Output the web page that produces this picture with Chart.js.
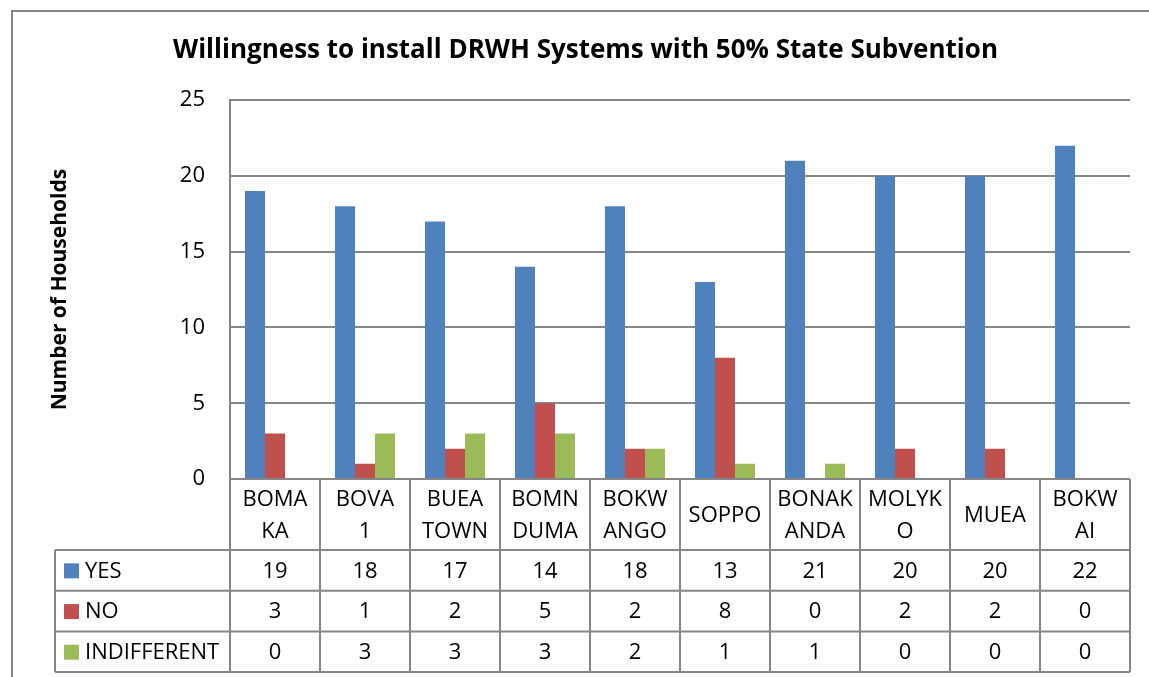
<!DOCTYPE html>
<html lang="en">
<head>
  <meta charset="UTF-8" />
  <title>Willingness to install DRWH Systems</title>
  <script src="https://cdn.jsdelivr.net/npm/chart.js"></script>
  <style>
    html, body { margin: 0; padding: 0; background: #fff; }
    #wrap { width: 1149px; height: 677px; position: relative; }
  </style>
</head>
<body>
  <div id="wrap"><canvas id="drwhChart"></canvas></div>
  <script>
    const towns = [
      ["BOMA", "KA"], ["BOVA", "1"], ["BUEA", "TOWN"], ["BOMN", "DUMA"], ["BOKW", "ANGO"],
      ["SOPPO"], ["BONAK", "ANDA"], ["MOLYK", "O"], ["MUEA"], ["BOKW", "AI"]
    ];
    const yesVals = [19, 18, 17, 14, 18, 13, 21, 20, 20, 22];
    const noVals = [3, 1, 2, 5, 2, 8, 0, 2, 2, 0];
    const indifferentVals = [0, 3, 3, 3, 2, 1, 1, 0, 0, 0];
    const yTicks = [0, 5, 10, 15, 20, 25];

    const FONT = "'Open Sans', Lato, sans-serif";
    const GRID = "#868686";
    const series = [
      { label: "YES", data: yesVals, color: "#4F81BD" },
      { label: "NO", data: noVals, color: "#C0504D" },
      { label: "INDIFFERENT", data: indifferentVals, color: "#9BBB59" }
    ];

    // Outer frame of the chart object (cut off at right and bottom)
    const framePlugin = {
      id: "frame",
      beforeDraw(chart) {
        const ctx = chart.ctx;
        ctx.save();
        ctx.strokeStyle = GRID;
        ctx.lineWidth = 2;
        ctx.beginPath();
        ctx.moveTo(12, 690);
        ctx.lineTo(12, 11);
        ctx.lineTo(1160, 11);
        ctx.stroke();
        ctx.restore();
      }
    };

    // Data table under the plot, columns follow the x scale
    const tablePlugin = {
      id: "dataTable",
      afterDraw(chart) {
        const ctx = chart.ctx;
        const xs = chart.scales.x;
        const area = chart.chartArea;
        const n = towns.length;
        const colW = (area.right - area.left) / n;
        const headerH = 71;
        const rowH = 40.7;
        const legendLeft = 55;
        const top = area.bottom;
        const rowsTop = top + headerH;
        const bottom = rowsTop + rowH * series.length;

        ctx.save();
        ctx.strokeStyle = GRID;
        ctx.lineWidth = 2;
        ctx.beginPath();
        for (let i = 0; i <= n; i++) {
          const x = area.left + i * colW;
          ctx.moveTo(x, top);
          ctx.lineTo(x, bottom);
        }
        ctx.moveTo(legendLeft, rowsTop);
        ctx.lineTo(legendLeft, bottom);
        for (let r = 0; r <= series.length; r++) {
          const y = rowsTop + r * rowH;
          ctx.moveTo(legendLeft, y);
          ctx.lineTo(area.right, y);
        }
        ctx.stroke();

        ctx.fillStyle = "#000";
        ctx.font = "22px " + FONT;
        ctx.textAlign = "center";
        ctx.textBaseline = "middle";
        towns.forEach((lines, i) => {
          const cx = xs.getPixelForValue(i);
          const lh = 32;
          const y0 = top + headerH / 2 - (lines.length - 1) * lh / 2 + 1;
          lines.forEach((t, k) => ctx.fillText(t, cx, y0 + k * lh));
        });

        series.forEach((s, r) => {
          const cy = rowsTop + r * rowH + rowH / 2 + 1;
          ctx.fillStyle = s.color;
          ctx.fillRect(64, cy - 8, 15, 15);
          ctx.fillStyle = "#000";
          ctx.textAlign = "left";
          ctx.fillText(s.label, 85, cy);
          ctx.textAlign = "center";
          s.data.forEach((v, i) => ctx.fillText(String(v), xs.getPixelForValue(i), cy));
        });
        ctx.restore();
      }
    };

    new Chart(document.getElementById("drwhChart"), {
      type: "bar",
      data: {
        labels: towns.map(t => t.join("")),
        datasets: series.map(s => ({
          label: s.label,
          data: s.data,
          backgroundColor: s.color,
          borderWidth: 0,
          categoryPercentage: 0.667,
          barPercentage: 1.0
        }))
      },
      options: {
        responsive: true,
        maintainAspectRatio: false,
        animation: false,
        layout: { padding: { left: 41, right: 19, top: 35, bottom: 6 } },
        plugins: {
          legend: { display: false },
          tooltip: { enabled: false },
          title: {
            display: true,
            text: "Willingness to install DRWH Systems with 50% State Subvention",
            color: "#000",
            font: { family: FONT, size: 26, weight: "bold" },
            padding: { top: 0, bottom: 34 }
          }
        },
        scales: {
          x: {
            ticks: { display: false },
            grid: { display: false, drawTicks: false },
            border: { display: false },
            afterFit(scale) { scale.height = 192; }
          },
          y: {
            min: 0,
            max: 25,
            afterBuildTicks(scale) { scale.ticks = yTicks.map(v => ({ value: v })); },
            ticks: {
              color: "#000",
              padding: 25,
              font: { family: FONT, size: 22 }
            },
            grid: { color: GRID, lineWidth: 2, drawTicks: false },
            border: { color: GRID, width: 2 },
            title: {
              display: true,
              text: "Number of Households",
              color: "#000",
              font: { family: FONT, size: 21, weight: "bold" },
              padding: { top: 6, bottom: 0 }
            },
            afterFit(scale) { scale.width = 189; }
          }
        }
      },
      plugins: [framePlugin, tablePlugin]
    });
  </script>
</body>
</html>
